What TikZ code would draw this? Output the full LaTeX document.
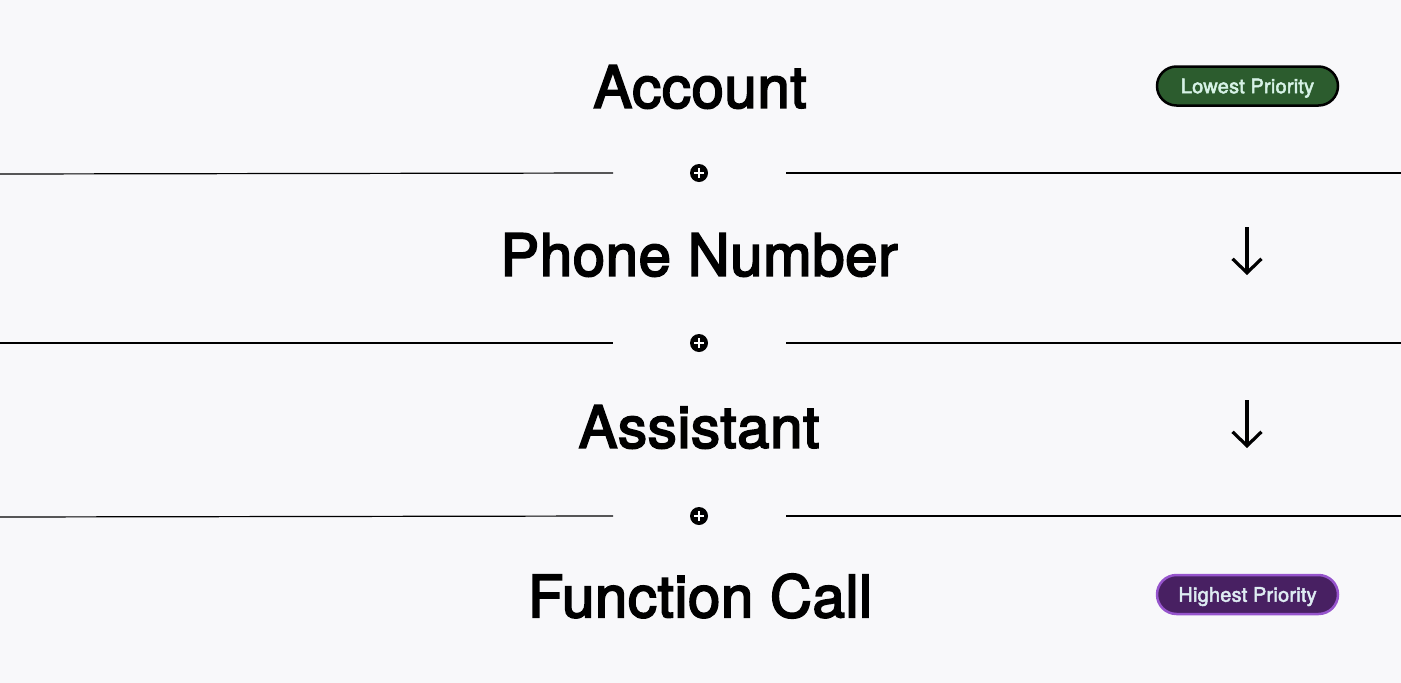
\documentclass[tikz,border=0pt]{standalone}
\usepackage{fontspec}
\setmainfont{TeX Gyre Heros}
\newfontfamily\medium[FakeBold=3.2,LetterSpace=1.2]{TeX Gyre Heros}
\newfontfamily\badgefont[FakeBold=2.5,LetterSpace=1]{TeX Gyre Heros}
\usetikzlibrary{positioning,arrows.meta}
\definecolor{canvas}{RGB}{248,248,250}
\definecolor{lowest}{RGB}{44,92,46}
\definecolor{lowesttext}{RGB}{214,242,230}
\definecolor{highest}{RGB}{72,32,98}
\definecolor{highestrim}{RGB}{150,84,204}
\definecolor{highesttext}{RGB}{222,236,242}
\tikzstyle{layer}=[inner sep=0pt, font=\medium\fontsize{58}{70}\selectfont]
\tikzstyle{badge}=[rounded corners=19.5pt, minimum width=181pt, minimum height=39pt, line width=2.5pt, inner sep=0pt, text height=14.4pt, text depth=0pt, font=\badgefont\fontsize{20}{24}\selectfont]
\tikzstyle{joint}=[circle, fill=black, minimum size=18pt, inner sep=0pt,
  path picture={
    \draw[white,line width=1.2pt] ([xshift=-5pt]path picture bounding box.center) -- ([xshift=5pt]path picture bounding box.center);
    \draw[white,line width=1.2pt] ([yshift=-5pt]path picture bounding box.center) -- ([yshift=5pt]path picture bounding box.center);
  }]
\tikzset{divider/.style={line width=1.2pt, black}}
\tikzset{order/.style={line width=3.2pt, -{Straight Barb[length=14pt,width=29pt,line width=3.2pt]}}}
\tikzset{x=1pt}
\tikzset{y=-1pt}
\begin{document}
\begin{tikzpicture}
  \useasboundingbox[fill=canvas] (0,0) rectangle (1401,683);
  \draw (700,87) node[layer] (L1) {Account};
  \draw (699,255) node[layer] (L2) {Phone Number};
  \draw (699,427) node[layer] (L3) {Assistant};
  \draw (700,596) node[layer] (L4) {Function Call};

  \draw (699,173) node[joint] (J1) {};
  \draw (699,343) node[joint] (J2) {};
  \draw (699,516) node[joint] (J3) {};

  %% Dividers
  \coordinate (D1a) at (0,174);   \coordinate (D1b) at (613,173);
  \coordinate (D1c) at (786,173); \coordinate (D1d) at (1401,173);
  \coordinate (D2a) at (0,343);   \coordinate (D2b) at (613,343);
  \coordinate (D2c) at (786,343); \coordinate (D2d) at (1401,343);
  \coordinate (D3a) at (0,517);   \coordinate (D3b) at (613,516);
  \coordinate (D3c) at (786,516); \coordinate (D3d) at (1401,516);
  \draw[divider] (D1a) -- (D1b);
  \draw[divider] (D1c) -- (D1d);
  \draw[divider] (D2a) -- (D2b);
  \draw[divider] (D2c) -- (D2d);
  \draw[divider] (D3a) -- (D3b);
  \draw[divider] (D3c) -- (D3d);

  %% Priority
  \draw (1247.5,86) node[badge,draw=black,fill=lowest,text=lowesttext] (B1) {Lowest Priority};
  \draw (1247.5,594.5) node[badge,draw=highestrim,fill=highest,text=highesttext] (B2) {Highest Priority};
  \coordinate (A1s) at (1247,227); \coordinate (A1e) at (1247,275);
  \coordinate (A2s) at (1247,400); \coordinate (A2e) at (1247,448);
  \draw[order] (A1s) -- (A1e);
  \draw[order] (A2s) -- (A2e);
\end{tikzpicture}
\end{document}
